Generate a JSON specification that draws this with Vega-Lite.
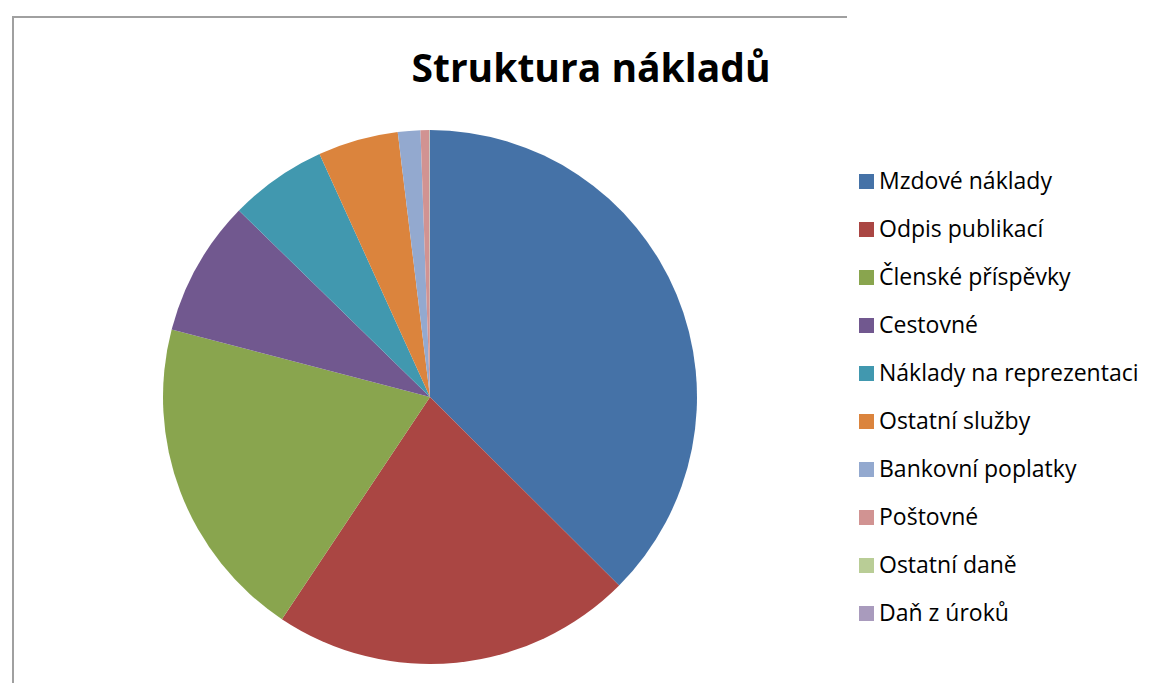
{
  "$schema": "https://vega.github.io/schema/vega-lite/v6.json",
  "autosize": "none",
  "padding": {"left": 13, "top": 17, "right": 306, "bottom": 0},
  "width": 834,
  "height": 760,
  "background": "white",
  "view": {
    "stroke": "#a0a0a0",
    "strokeWidth": 2,
    "strokeDash": [834, 1594]
  },
  "title": {
    "text": "Struktura nákladů",
    "font": "Open Sans",
    "fontSize": 39,
    "fontWeight": "bold",
    "color": "#000000",
    "anchor": "middle",
    "frame": "group",
    "baseline": "alphabetic",
    "offset": 0,
    "dx": 161,
    "dy": 104
  },
  "data": {
    "values": [
      {"polozka": "Mzdové náklady", "podil": 37.46},
      {"polozka": "Odpis publikací", "podil": 21.88},
      {"polozka": "Členské příspěvky", "podil": 19.70},
      {"polozka": "Cestovné", "podil": 8.24},
      {"polozka": "Náklady na reprezentaci", "podil": 5.90},
      {"polozka": "Ostatní služby", "podil": 4.86},
      {"polozka": "Bankovní poplatky", "podil": 1.36},
      {"polozka": "Poštovné", "podil": 0.52},
      {"polozka": "Ostatní daně", "podil": 0.03},
      {"polozka": "Daň z úroků", "podil": 0.02}
    ]
  },
  "transform": [
    {"window": [{"op": "row_number", "as": "poradi"}]}
  ],
  "mark": {"type": "arc", "outerRadius": 267},
  "encoding": {
    "theta": {"field": "podil", "type": "quantitative", "stack": true},
    "order": {"field": "poradi", "type": "quantitative"},
    "color": {
      "field": "polozka",
      "type": "nominal",
      "sort": null,
      "scale": {
        "range": ["#4572A7", "#AA4643", "#89A54E", "#71588F", "#4198AF", "#DB843D", "#93A9CF", "#D19392", "#B9CD96", "#A99BBD"]
      },
      "legend": {
        "title": null,
        "orient": "none",
        "legendX": 842,
        "legendY": 153,
        "padding": 0,
        "symbolType": "square",
        "symbolSize": 225,
        "symbolStrokeWidth": 0,
        "labelFont": "Open Sans",
        "labelFontSize": 23,
        "labelColor": "#000000",
        "labelOffset": 1,
        "labelLimit": 400,
        "rowPadding": 24
      }
    }
  }
}
